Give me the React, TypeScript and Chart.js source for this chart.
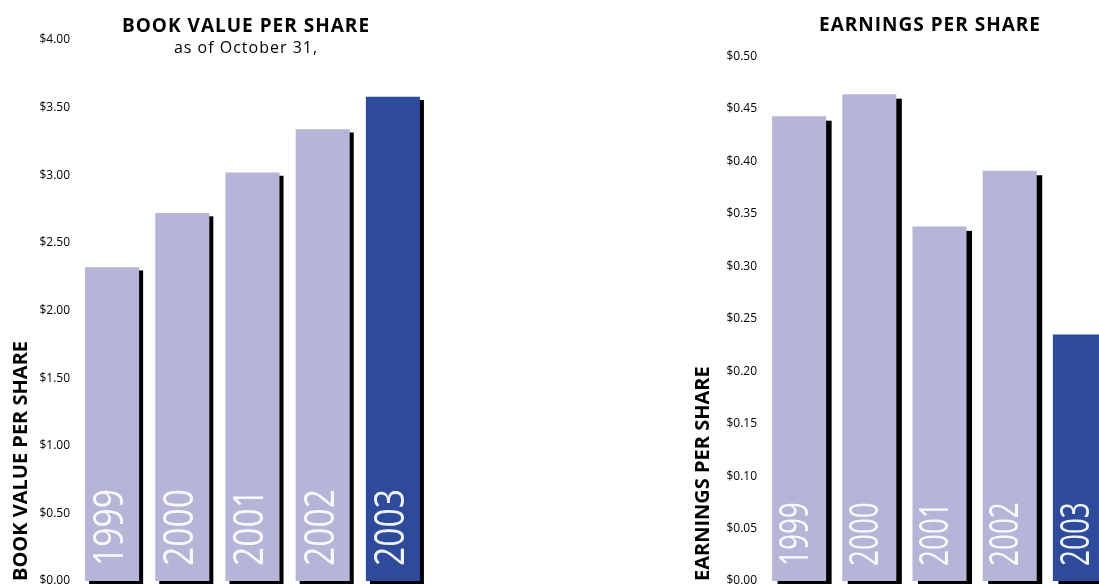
import React, { useEffect, useRef } from 'react';
import { Chart, registerables } from 'chart.js';

Chart.register(...registerables);

// ---- data ----
const years = ['1999', '2000', '2001', '2002', '2003'];
const bookValues = [2.32, 2.72, 3.02, 3.34, 3.58];
const epsValues = [0.443, 0.464, 0.338, 0.391, 0.235];

const bookTitle = 'BOOK VALUE PER SHARE';
const bookSubtitle = 'as of October 31,';
const bookAxisTitle = 'BOOK VALUE PER SHARE';
const bookMax = 4;
const bookStep = 0.5;

const epsTitle = 'EARNINGS PER SHARE';
const epsAxisTitle = 'EARNINGS PER SHARE';
const epsMax = 0.5;
const epsStep = 0.05;

const LIGHT = '#b6b5d8';
const DARK = '#2e4a9a';
const barColors = years.map((_, i) => (i === years.length - 1 ? DARK : LIGHT));

const FONT = '"Open Sans", "DejaVu Sans", sans-serif';

type TitleLine = { text: string; font: string; y: number; spacing: string };

function titlePlugin(lines: TitleLine[]) {
  return {
    id: 'customTitles',
    afterDraw(chart: any) {
      const ctx = chart.ctx;
      ctx.save();
      ctx.fillStyle = '#000';
      ctx.textAlign = 'center';
      ctx.textBaseline = 'alphabetic';
      for (const l of lines) {
        ctx.font = l.font;
        (ctx as any).letterSpacing = l.spacing;
        ctx.fillText(l.text, chart.width / 2, l.y);
      }
      (ctx as any).letterSpacing = '0px';
      ctx.restore();
    },
  };
}

function shadowPlugin(off: number) {
  return {
    id: 'barShadow',
    beforeDatasetsDraw(chart: any) {
      const ctx = chart.ctx;
      const meta = chart.getDatasetMeta(0);
      ctx.save();
      ctx.fillStyle = '#000';
      meta.data.forEach((bar: any) => {
        const { x, y, base, width } = bar.getProps(['x', 'y', 'base', 'width'], true);
        ctx.fillRect(x - width / 2 + off, y + off * 0.8, width, base - y);
      });
      ctx.restore();
    },
  };
}

function yearPlugin(size: number, sx: number, dx: number, bottom: number) {
  return {
    id: 'yearLabels',
    afterDatasetsDraw(chart: any) {
      const ctx = chart.ctx;
      const meta = chart.getDatasetMeta(0);
      ctx.save();
      ctx.fillStyle = 'rgba(255,255,255,0.92)';
      ctx.font = `400 ${size}px ${FONT}`;
      ctx.textAlign = 'left';
      ctx.textBaseline = 'middle';
      meta.data.forEach((bar: any, i: number) => {
        const { x, base } = bar.getProps(['x', 'base'], true);
        ctx.save();
        ctx.translate(x + dx, base - bottom);
        ctx.rotate(-Math.PI / 2);
        ctx.scale(sx, 1);
        ctx.fillText(chart.data.labels[i], 0, 0);
        ctx.restore();
      });
      ctx.restore();
    },
  };
}

type Cfg = {
  values: number[];
  max: number;
  step: number;
  axisTitle: string;
  padTop: number;
  padRight: number;
  axisWidth: number;
  titlePad: number;
  shadow: number;
  titles: TitleLine[];
  yearSize: number;
  yearSx: number;
  yearDx: number;
};

function makeChart(canvas: HTMLCanvasElement, cfg: Cfg) {
  return new Chart(canvas, {
    type: 'bar',
    data: {
      labels: years,
      datasets: [
        {
          data: cfg.values,
          backgroundColor: barColors,
          borderWidth: 0,
          barPercentage: 0.77,
          categoryPercentage: 1,
        },
      ],
    },
    options: {
      responsive: false,
      animation: false,
      devicePixelRatio: 1,
      layout: { padding: { top: cfg.padTop, bottom: 19, left: 0, right: cfg.padRight } },
      plugins: {
        legend: { display: false },
        tooltip: { enabled: false },
        title: { display: false },
      },
      scales: {
        x: { display: false },
        y: {
          min: 0,
          max: cfg.max,
          afterFit: (s: any) => {
            s.width = cfg.axisWidth;
          },
          grid: { display: false, drawTicks: false },
          border: { display: false },
          ticks: {
            stepSize: cfg.step,
            padding: 7,
            color: '#000',
            font: { family: FONT, size: 12 },
            callback: (v: any) => '$' + Number(v).toFixed(2),
          },
          title: {
            display: true,
            text: cfg.axisTitle,
            align: 'start',
            color: '#000',
            font: { family: FONT, size: 20, weight: 'bold' },
            padding: { top: cfg.titlePad, bottom: 0 },
          },
        },
      },
    } as any,
    plugins: [
      shadowPlugin(cfg.shadow),
      yearPlugin(cfg.yearSize, cfg.yearSx, cfg.yearDx, 15),
      titlePlugin(cfg.titles),
    ],
  });
}

export default function App() {
  const leftRef = useRef<HTMLCanvasElement>(null);
  const rightRef = useRef<HTMLCanvasElement>(null);

  useEffect(() => {
    const c1 = makeChart(leftRef.current!, {
      values: bookValues,
      max: bookMax,
      step: bookStep,
      axisTitle: bookAxisTitle,
      padTop: 40,
      padRight: 64,
      axisWidth: 77,
      titlePad: 9,
      shadow: 4,
      titles: [
        { text: bookTitle, font: `bold 19px ${FONT}`, y: 31.5, spacing: '1px' },
        { text: bookSubtitle, font: `16px ${FONT}`, y: 53, spacing: '1px' },
      ],
      yearSize: 42,
      yearSx: 0.8,
      yearDx: -1,
    });
    const c2 = makeChart(rightRef.current!, {
      values: epsValues,
      max: epsMax,
      step: epsStep,
      axisTitle: epsAxisTitle,
      padTop: 56.5,
      padRight: 65,
      axisWidth: 84,
      titlePad: 11.5,
      shadow: 5.5,
      titles: [{ text: epsTitle, font: `bold 19px ${FONT}`, y: 31, spacing: '1px' }],
      yearSize: 41,
      yearSx: 0.68,
      yearDx: -3,
    });
    return () => {
      c1.destroy();
      c2.destroy();
    };
  }, []);

  return (
    <div
      style={{
        position: 'fixed',
        left: 0,
        top: 0,
        width: 1099,
        height: 584,
        overflow: 'hidden',
        background: '#fff',
      }}
    >
      <canvas
        ref={leftRef}
        width={492}
        height={600}
        style={{ position: 'absolute', left: 0, top: 0, width: 492, height: 600 }}
      />
      <canvas
        ref={rightRef}
        width={500}
        height={600}
        style={{ position: 'absolute', left: 680, top: 0, width: 500, height: 600 }}
      />
    </div>
  );
}
